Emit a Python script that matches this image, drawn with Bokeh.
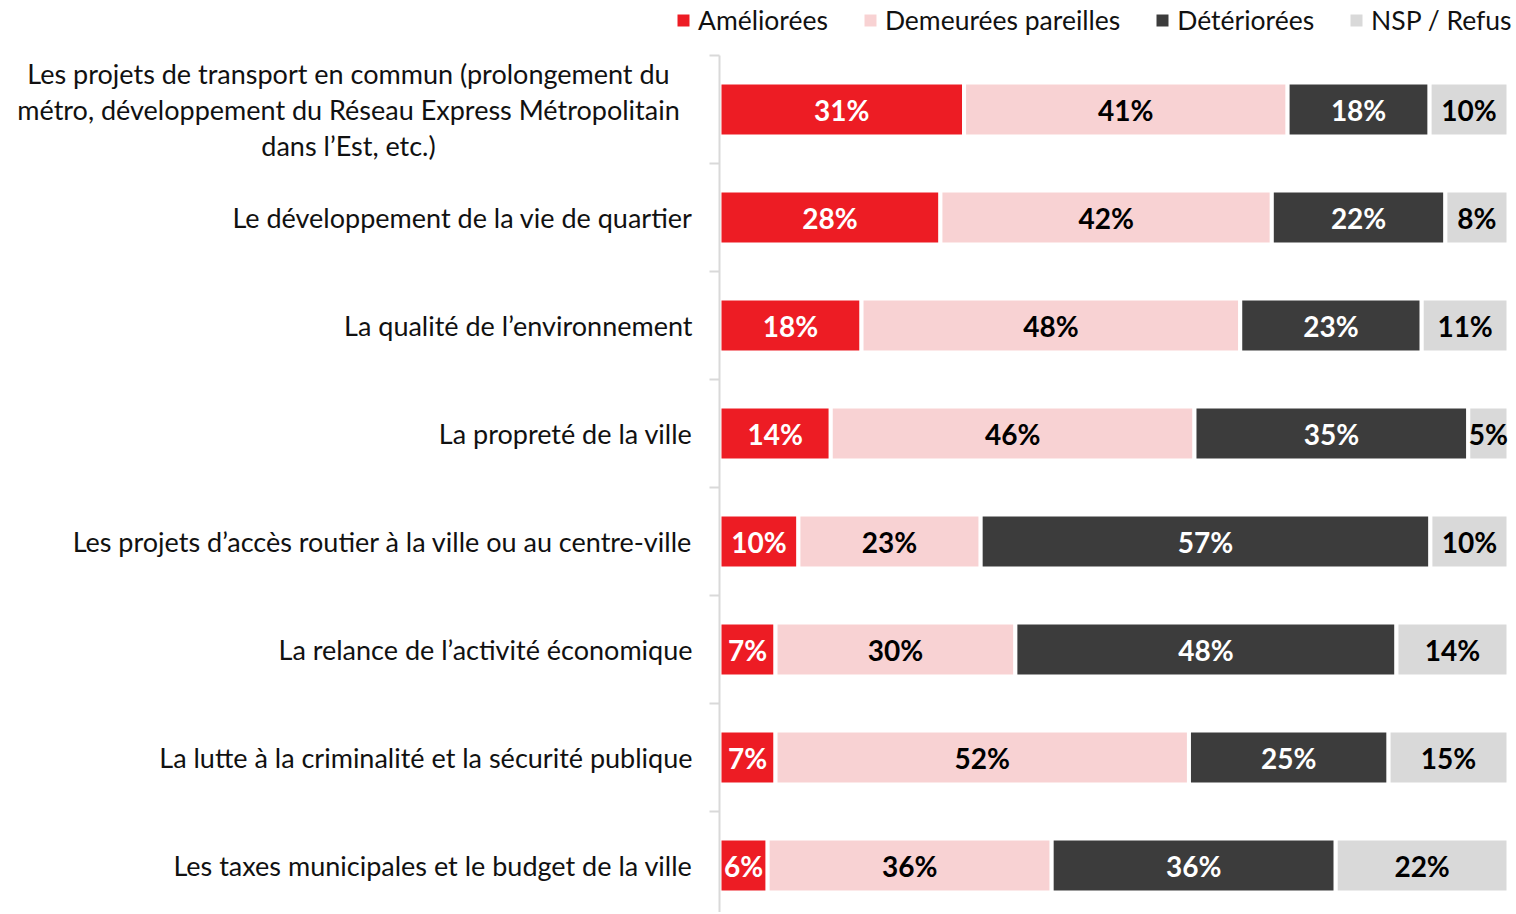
from bokeh.plotting import figure
from bokeh.models import ColumnDataSource, Range1d, Legend, LegendItem
from bokeh.core.properties import value
from bokeh.embed import file_html
from bokeh.resources import INLINE

categories = [
    "Les projets de transport en commun (prolongement du\nmétro, développement du Réseau Express Métropolitain\ndans l’Est, etc.)",
    "Le développement de la vie de quartier",
    "La qualité de l’environnement",
    "La propreté de la ville",
    "Les projets d’accès routier à la ville ou au centre-ville",
    "La relance de l’activité économique",
    "La lutte à la criminalité et la sécurité publique",
    "Les taxes municipales et le budget de la ville",
]
series = ["Améliorées", "Demeurées pareilles", "Détériorées", "NSP / Refus"]
ameliorees = [31, 28, 18, 14.1, 10, 7.1, 7.1, 6.1]
pareilles = [41, 42, 48, 46.1, 23.1, 30.4, 52.4, 36]
deteriorees = [18, 22, 23, 34.7, 57, 48.3, 25.3, 36]
nsp = [10, 8, 11, 5.1, 9.9, 14.2, 15.2, 21.9]

colors = ["#ED1C24", "#F8D2D3", "#3C3C3C", "#D9D9D9"]
text_colors = ["white", "black", "white", "black"]
FONT = "Lato"

W, H = 1516, 912
PX = 7.89          # pixels per percent
X0 = 719           # pixel of the 0 % line
ROW = 108          # pixels per category row
TOP = 55           # pixel of the top of the first row

n = len(categories)
ypos = [n - 0.5 - i for i in range(n)]
data = dict(y=ypos)
for name, vals in zip(series, [ameliorees, pareilles, deteriorees, nsp]):
    data[name] = vals
source = ColumnDataSource(data)

y_end = n + TOP / ROW
p = figure(width=W, height=H, output_backend="svg", toolbar_location=None,
           x_range=Range1d(-X0 / PX, (W - X0) / PX),
           y_range=Range1d(y_end - H / ROW, y_end),
           x_axis_location=None, y_axis_location=None,
           min_border=0)
p.outline_line_color = None
p.xgrid.visible = False
p.ygrid.visible = False

renderers = p.hbar_stack(series, y="y", height=0.5, color=colors, source=source,
                         line_color="white", line_width=4)

# axis line and boundary ticks
p.segment(x0=[0], y0=[n], x1=[0], y1=[y_end - H / ROW], line_color="#D9D9D9", line_width=2)
bounds = list(range(n + 1))
p.segment(x0=[-10 / PX] * len(bounds), y0=bounds, x1=[0] * len(bounds), y1=bounds,
          line_color="#D9D9D9", line_width=2)

# value labels
all_vals = [ameliorees, pareilles, deteriorees, nsp]
cum = [0.0] * n
for k, vals in enumerate(all_vals):
    xc = [cum[i] + vals[i] / 2 for i in range(n)]
    labs = [f"{round(v)}%" for v in vals]
    cum = [cum[i] + vals[i] for i in range(n)]
    src = ColumnDataSource(dict(x=xc, y=ypos, t=labs))
    p.text(x="x", y="y", text="t", source=src, text_align="center",
           text_baseline="middle", text_font=value(FONT), text_font_style="bold",
           text_font_size="28px", text_color=text_colors[k])

# category labels
single = [(c, y) for c, y in zip(categories, ypos) if "\n" not in c]
multi = [(c, y) for c, y in zip(categories, ypos) if "\n" in c]
p.text(x=[(692 - X0) / PX] * len(single), y=[y for _, y in single], text=[c for c, _ in single],
       text_align="right", text_baseline="middle", text_font=value(FONT),
       text_font_size="27px", text_color="#111111")
p.text(x=[(348 - X0) / PX] * len(multi), y=[y for _, y in multi], text=[c for c, _ in multi],
       text_align="center", text_baseline="middle", text_font=value(FONT),
       text_font_size="27px", text_color="#111111", text_line_height=1.09)

legend = Legend(items=[LegendItem(label=s, renderers=[r]) for s, r in zip(series, renderers)],
                orientation="horizontal", location=(673, H - 36))
legend.glyph_width = 20
legend.glyph_height = 20
legend.label_standoff = 5
legend.spacing = 32
legend.padding = 0
legend.margin = 0
legend.border_line_color = None
legend.background_fill_alpha = 0
legend.label_text_font = FONT
legend.label_text_font_size = "26.5px"
legend.label_text_color = "#111111"
p.add_layout(legend)

open("out.html", "w").write(file_html(p, INLINE))
